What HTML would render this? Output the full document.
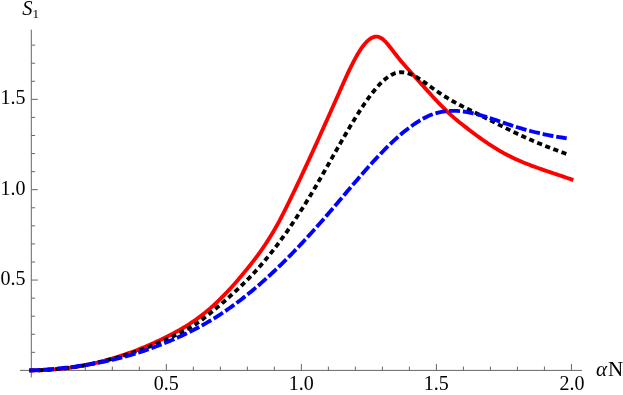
<!DOCTYPE html>
<html><head><meta charset="utf-8"><title>Plot</title>
<style>
html,body{margin:0;padding:0;background:#fff;}
body{width:623px;height:395px;overflow:hidden;}
svg{display:block;will-change:transform;}
text{font-family:"Liberation Serif",serif;fill:#000;}
</style></head><body>
<svg width="623" height="395" viewBox="0 0 623 395">
<rect width="623" height="395" fill="#fff"/>
<g stroke="#666" stroke-width="1" fill="none" shape-rendering="auto">
<line x1="20" y1="370.4" x2="582" y2="370.4"/>
<line x1="31.3" y1="29.7" x2="31.3" y2="377.4"/>
<line x1="58.31" y1="370.4" x2="58.31" y2="366.60"/>
<line x1="85.31" y1="370.4" x2="85.31" y2="366.60"/>
<line x1="112.32" y1="370.4" x2="112.32" y2="366.60"/>
<line x1="139.33" y1="370.4" x2="139.33" y2="366.60"/>
<line x1="166.34" y1="370.4" x2="166.34" y2="363.90"/>
<line x1="193.34" y1="370.4" x2="193.34" y2="366.60"/>
<line x1="220.35" y1="370.4" x2="220.35" y2="366.60"/>
<line x1="247.36" y1="370.4" x2="247.36" y2="366.60"/>
<line x1="274.36" y1="370.4" x2="274.36" y2="366.60"/>
<line x1="301.37" y1="370.4" x2="301.37" y2="363.90"/>
<line x1="328.38" y1="370.4" x2="328.38" y2="366.60"/>
<line x1="355.38" y1="370.4" x2="355.38" y2="366.60"/>
<line x1="382.39" y1="370.4" x2="382.39" y2="366.60"/>
<line x1="409.40" y1="370.4" x2="409.40" y2="366.60"/>
<line x1="436.40" y1="370.4" x2="436.40" y2="363.90"/>
<line x1="463.41" y1="370.4" x2="463.41" y2="366.60"/>
<line x1="490.42" y1="370.4" x2="490.42" y2="366.60"/>
<line x1="517.43" y1="370.4" x2="517.43" y2="366.60"/>
<line x1="544.43" y1="370.4" x2="544.43" y2="366.60"/>
<line x1="571.44" y1="370.4" x2="571.44" y2="363.90"/>
<line x1="31.3" y1="352.33" x2="35.10" y2="352.33"/>
<line x1="31.3" y1="334.26" x2="35.10" y2="334.26"/>
<line x1="31.3" y1="316.19" x2="35.10" y2="316.19"/>
<line x1="31.3" y1="298.12" x2="35.10" y2="298.12"/>
<line x1="31.3" y1="280.05" x2="37.80" y2="280.05"/>
<line x1="31.3" y1="261.98" x2="35.10" y2="261.98"/>
<line x1="31.3" y1="243.91" x2="35.10" y2="243.91"/>
<line x1="31.3" y1="225.84" x2="35.10" y2="225.84"/>
<line x1="31.3" y1="207.77" x2="35.10" y2="207.77"/>
<line x1="31.3" y1="189.70" x2="37.80" y2="189.70"/>
<line x1="31.3" y1="171.63" x2="35.10" y2="171.63"/>
<line x1="31.3" y1="153.56" x2="35.10" y2="153.56"/>
<line x1="31.3" y1="135.49" x2="35.10" y2="135.49"/>
<line x1="31.3" y1="117.42" x2="35.10" y2="117.42"/>
<line x1="31.3" y1="99.35" x2="37.80" y2="99.35"/>
<line x1="31.3" y1="81.28" x2="35.10" y2="81.28"/>
<line x1="31.3" y1="63.21" x2="35.10" y2="63.21"/>
<line x1="31.3" y1="45.14" x2="35.10" y2="45.14"/>
</g>
<g fill="none" stroke-width="3.85" stroke-linejoin="round">
<path stroke="#ff0000" d="M29.30 370.40 L31.30 370.40 L33.30 370.39 L35.30 370.37 L37.30 370.33 L39.30 370.28 L41.30 370.22 L43.30 370.14 L45.30 370.04 L47.30 369.94 L49.30 369.81 L51.30 369.68 L53.30 369.53 L55.30 369.36 L57.30 369.18 L59.30 368.99 L61.30 368.78 L63.30 368.56 L65.30 368.32 L67.30 368.07 L69.30 367.80 L71.30 367.52 L73.30 367.22 L75.30 366.91 L77.30 366.59 L79.30 366.25 L81.30 365.89 L83.30 365.52 L85.30 365.14 L87.30 364.74 L89.30 364.33 L91.30 363.90 L93.30 363.45 L95.30 363.00 L97.30 362.52 L99.30 362.04 L101.30 361.53 L103.30 361.02 L105.30 360.48 L107.30 359.94 L109.30 359.37 L111.30 358.80 L113.30 358.21 L115.30 357.60 L117.30 356.98 L119.30 356.34 L121.30 355.69 L123.30 355.02 L125.30 354.34 L127.30 353.64 L129.30 352.93 L131.30 352.20 L133.30 351.46 L135.30 350.70 L137.30 349.92 L139.30 349.14 L141.30 348.33 L143.30 347.51 L145.30 346.68 L147.30 345.83 L149.30 344.96 L151.30 344.08 L153.30 343.19 L155.30 342.28 L157.30 341.35 L159.30 340.41 L161.30 339.45 L163.30 338.48 L165.30 337.49 L167.30 336.49 L169.30 335.47 L171.30 334.43 L173.30 333.37 L175.30 332.29 L177.30 331.19 L179.30 330.07 L181.30 328.91 L183.30 327.73 L185.30 326.53 L187.30 325.29 L189.30 324.01 L191.30 322.71 L193.30 321.37 L195.30 319.99 L197.30 318.57 L199.30 317.11 L201.30 315.60 L203.30 314.06 L205.30 312.47 L207.30 310.83 L209.30 309.14 L211.30 307.40 L213.30 305.61 L215.30 303.77 L217.30 301.88 L219.30 299.95 L221.30 297.97 L223.30 295.95 L225.30 293.88 L227.30 291.77 L229.30 289.63 L231.30 287.44 L233.30 285.21 L235.30 282.95 L237.30 280.66 L239.30 278.33 L241.30 275.96 L243.30 273.57 L245.30 271.14 L247.30 268.69 L249.30 266.20 L251.30 263.67 L253.30 261.11 L255.30 258.49 L257.30 255.82 L259.30 253.08 L261.30 250.28 L263.30 247.41 L265.30 244.46 L267.30 241.42 L269.30 238.29 L271.30 235.06 L273.30 231.73 L275.30 228.28 L277.30 224.73 L279.30 221.05 L281.30 217.25 L283.30 213.36 L285.30 209.38 L287.30 205.34 L289.30 201.27 L291.30 197.16 L293.30 193.03 L295.30 188.86 L297.30 184.67 L299.30 180.45 L301.30 176.20 L303.30 171.93 L305.30 167.64 L307.30 163.32 L309.30 158.98 L311.30 154.62 L313.30 150.25 L315.30 145.85 L317.30 141.44 L319.30 137.01 L321.30 132.57 L323.30 128.12 L325.30 123.65 L327.30 119.18 L329.30 114.69 L331.30 110.20 L333.30 105.70 L335.30 101.19 L337.30 96.68 L339.30 92.16 L341.30 87.65 L343.30 83.17 L345.30 78.74 L347.30 74.39 L349.30 70.15 L351.30 66.04 L353.30 62.10 L355.30 58.34 L357.30 54.79 L359.30 51.48 L361.30 48.43 L363.30 45.67 L365.30 43.23 L367.30 41.13 L369.30 39.41 L371.30 38.07 L373.30 37.15 L375.30 36.68 L377.30 36.67 L379.30 37.16 L381.30 38.15 L383.30 39.64 L385.30 41.54 L387.30 43.76 L389.30 46.21 L391.30 48.79 L393.30 51.43 L395.30 54.03 L397.30 56.56 L399.30 59.02 L401.30 61.42 L403.30 63.76 L405.30 66.07 L407.30 68.34 L409.30 70.58 L411.30 72.81 L413.30 75.03 L415.30 77.24 L417.30 79.46 L419.30 81.69 L421.30 83.93 L423.30 86.16 L425.30 88.39 L427.30 90.61 L429.30 92.82 L431.30 95.02 L433.30 97.20 L435.30 99.35 L437.30 101.48 L439.30 103.59 L441.30 105.65 L443.30 107.68 L445.30 109.67 L447.30 111.62 L449.30 113.52 L451.30 115.36 L453.30 117.15 L455.30 118.88 L457.30 120.55 L459.30 122.17 L461.30 123.76 L463.30 125.32 L465.30 126.86 L467.30 128.40 L469.30 129.93 L471.30 131.45 L473.30 132.96 L475.30 134.45 L477.30 135.93 L479.30 137.39 L481.30 138.83 L483.30 140.25 L485.30 141.65 L487.30 143.02 L489.30 144.37 L491.30 145.69 L493.30 146.97 L495.30 148.23 L497.30 149.45 L499.30 150.64 L501.30 151.79 L503.30 152.90 L505.30 153.98 L507.30 155.03 L509.30 156.05 L511.30 157.04 L513.30 158.00 L515.30 158.93 L517.30 159.84 L519.30 160.72 L521.30 161.58 L523.30 162.42 L525.30 163.24 L527.30 164.04 L529.30 164.82 L531.30 165.58 L533.30 166.33 L535.30 167.06 L537.30 167.78 L539.30 168.49 L541.30 169.19 L543.30 169.88 L545.30 170.56 L547.30 171.24 L549.30 171.91 L551.30 172.58 L553.30 173.24 L555.30 173.91 L557.30 174.57 L559.30 175.24 L561.30 175.91 L563.30 176.58 L565.30 177.27 L567.30 177.95 L569.30 178.65 L571.30 179.36 L571.45 179.41 L573.33 180.08"/>
<path stroke="#000000" stroke-dasharray="5.1 3.57" d="M29.30 370.41 L31.30 370.40 L33.30 370.38 L35.30 370.35 L37.30 370.31 L39.30 370.25 L41.30 370.17 L43.30 370.09 L45.30 369.99 L47.30 369.87 L49.30 369.75 L51.30 369.60 L53.30 369.45 L55.30 369.28 L57.30 369.10 L59.30 368.90 L61.30 368.69 L63.30 368.47 L65.30 368.23 L67.30 367.98 L69.30 367.72 L71.30 367.44 L73.30 367.15 L75.30 366.85 L77.30 366.53 L79.30 366.21 L81.30 365.86 L83.30 365.51 L85.30 365.14 L87.30 364.76 L89.30 364.36 L91.30 363.96 L93.30 363.53 L95.30 363.10 L97.30 362.66 L99.30 362.20 L101.30 361.73 L103.30 361.24 L105.30 360.74 L107.30 360.24 L109.30 359.71 L111.30 359.18 L113.30 358.63 L115.30 358.07 L117.30 357.50 L119.30 356.92 L121.30 356.32 L123.30 355.71 L125.30 355.09 L127.30 354.46 L129.30 353.81 L131.30 353.15 L133.30 352.48 L135.30 351.80 L137.30 351.11 L139.30 350.40 L141.30 349.69 L143.30 348.96 L145.30 348.21 L147.30 347.46 L149.30 346.69 L151.30 345.90 L153.30 345.10 L155.30 344.29 L157.30 343.46 L159.30 342.62 L161.30 341.75 L163.30 340.88 L165.30 339.98 L167.30 339.07 L169.30 338.13 L171.30 337.21 L173.30 336.27 L175.30 335.32 L177.30 334.34 L179.30 333.35 L181.30 332.33 L183.30 331.29 L185.30 330.23 L187.30 329.13 L189.30 327.99 L191.30 326.81 L193.30 325.59 L195.30 324.31 L197.30 322.99 L199.30 321.60 L201.30 320.16 L203.30 318.65 L205.30 317.10 L207.30 315.52 L209.30 313.91 L211.30 312.28 L213.30 310.64 L215.30 309.00 L217.30 307.31 L219.30 305.61 L221.30 303.90 L223.30 302.17 L225.30 300.43 L227.30 298.67 L229.30 296.89 L231.30 295.09 L233.30 293.28 L235.30 291.43 L237.30 289.57 L239.30 287.68 L241.30 285.76 L243.30 283.81 L245.30 281.84 L247.30 279.83 L249.30 277.79 L251.30 275.71 L253.30 273.60 L255.30 271.45 L257.30 269.27 L259.30 267.04 L261.30 264.76 L263.30 262.42 L265.30 260.04 L267.30 257.62 L269.30 255.15 L271.30 252.65 L273.30 250.09 L275.30 247.50 L277.30 244.87 L279.30 242.19 L281.30 239.47 L283.30 236.71 L285.30 233.90 L287.30 231.06 L289.30 228.18 L291.30 225.25 L293.30 222.28 L295.30 219.28 L297.30 216.23 L299.30 213.14 L301.30 210.02 L303.30 206.87 L305.30 203.69 L307.30 200.46 L309.30 197.19 L311.30 193.88 L313.30 190.54 L315.30 187.15 L317.30 183.73 L319.30 180.28 L321.30 176.80 L323.30 173.30 L325.30 169.78 L327.30 166.25 L329.30 162.70 L331.30 159.16 L333.30 155.63 L335.30 152.11 L337.30 148.59 L339.30 145.08 L341.30 141.59 L343.30 138.12 L345.30 134.68 L347.30 131.26 L349.30 127.88 L351.30 124.53 L353.30 121.23 L355.30 117.97 L357.30 114.77 L359.30 111.62 L361.30 108.53 L363.30 105.52 L365.30 102.58 L367.30 99.73 L369.30 96.98 L371.30 94.29 L373.30 91.70 L375.30 89.24 L377.30 86.90 L379.30 84.70 L381.30 82.65 L383.30 80.76 L385.30 79.03 L387.30 77.48 L389.30 76.10 L391.30 74.92 L393.30 73.94 L395.30 73.17 L397.30 72.65 L399.30 72.33 L401.30 72.22 L403.30 72.30 L405.30 72.56 L407.30 73.00 L409.30 73.62 L411.30 74.39 L413.30 75.31 L415.30 76.36 L417.30 77.51 L419.30 78.76 L421.30 80.08 L423.30 81.47 L425.30 82.90 L427.30 84.36 L429.30 85.83 L431.30 87.29 L433.30 88.73 L435.30 90.14 L437.30 91.52 L439.30 92.87 L441.30 94.19 L443.30 95.49 L445.30 96.75 L447.30 97.98 L449.30 99.19 L451.30 100.36 L453.30 101.51 L455.30 102.63 L457.30 103.72 L459.30 104.78 L461.30 105.82 L463.30 106.84 L465.30 107.85 L467.30 108.84 L469.30 109.83 L471.30 110.81 L473.30 111.79 L475.30 112.77 L477.30 113.75 L479.30 114.74 L481.30 115.74 L483.30 116.75 L485.30 117.75 L487.30 118.77 L489.30 119.78 L491.30 120.80 L493.30 121.82 L495.30 122.84 L497.30 123.85 L499.30 124.87 L501.30 125.88 L503.30 126.89 L505.30 127.89 L507.30 128.89 L509.30 129.88 L511.30 130.86 L513.30 131.83 L515.30 132.80 L517.30 133.75 L519.30 134.69 L521.30 135.62 L523.30 136.53 L525.30 137.44 L527.30 138.34 L529.30 139.22 L531.30 140.10 L533.30 140.96 L535.30 141.82 L537.30 142.66 L539.30 143.49 L541.30 144.32 L543.30 145.13 L545.30 145.93 L547.30 146.73 L549.30 147.51 L551.30 148.29 L553.30 149.06 L555.30 149.81 L557.30 150.56 L559.30 151.30 L561.30 152.03 L563.30 152.75 L565.30 153.46 L566.70 153.95"/>
<path stroke="#0000ff" stroke-dasharray="10.97 2.865" d="M29.30 370.49 L31.30 370.40 L33.30 370.31 L35.30 370.20 L37.30 370.10 L39.30 369.98 L41.30 369.86 L43.30 369.73 L45.30 369.59 L47.30 369.44 L49.30 369.29 L51.30 369.13 L53.30 368.96 L55.30 368.78 L57.30 368.60 L59.30 368.41 L61.30 368.21 L63.30 368.00 L65.30 367.78 L67.30 367.55 L69.30 367.31 L71.30 367.07 L73.30 366.81 L75.30 366.55 L77.30 366.28 L79.30 365.99 L81.30 365.70 L83.30 365.40 L85.30 365.09 L87.30 364.76 L89.30 364.43 L91.30 364.09 L93.30 363.73 L95.30 363.37 L97.30 362.99 L99.30 362.61 L101.30 362.21 L103.30 361.80 L105.30 361.38 L107.30 360.95 L109.30 360.50 L111.30 360.05 L113.30 359.58 L115.30 359.10 L117.30 358.61 L119.30 358.11 L121.30 357.60 L123.30 357.07 L125.30 356.53 L127.30 355.97 L129.30 355.41 L131.30 354.83 L133.30 354.23 L135.30 353.63 L137.30 353.01 L139.30 352.38 L141.30 351.73 L143.30 351.07 L145.30 350.39 L147.30 349.71 L149.30 349.00 L151.30 348.29 L153.30 347.55 L155.30 346.81 L157.30 346.04 L159.30 345.27 L161.30 344.48 L163.30 343.67 L165.30 342.84 L167.30 342.01 L169.30 341.15 L171.30 340.31 L173.30 339.46 L175.30 338.60 L177.30 337.72 L179.30 336.82 L181.30 335.91 L183.30 334.98 L185.30 334.03 L187.30 333.07 L189.30 332.09 L191.30 331.09 L193.30 330.07 L195.30 329.04 L197.30 327.98 L199.30 326.91 L201.30 325.82 L203.30 324.72 L205.30 323.59 L207.30 322.44 L209.30 321.28 L211.30 320.10 L213.30 318.90 L215.30 317.67 L217.30 316.39 L219.30 315.08 L221.30 313.76 L223.30 312.42 L225.30 311.06 L227.30 309.67 L229.30 308.27 L231.30 306.85 L233.30 305.40 L235.30 303.94 L237.30 302.45 L239.30 300.94 L241.30 299.41 L243.30 297.86 L245.30 296.29 L247.30 294.70 L249.30 293.08 L251.30 291.44 L253.30 289.78 L255.30 288.10 L257.30 286.40 L259.30 284.67 L261.30 282.92 L263.30 281.15 L265.30 279.36 L267.30 277.55 L269.30 275.72 L271.30 273.86 L273.30 271.99 L275.30 270.10 L277.30 268.18 L279.30 266.25 L281.30 264.30 L283.30 262.33 L285.30 260.35 L287.30 258.34 L289.30 256.32 L291.30 254.28 L293.30 252.22 L295.30 250.15 L297.30 248.06 L299.30 245.95 L301.30 243.83 L303.30 241.69 L305.30 239.53 L307.30 237.36 L309.30 235.17 L311.30 232.97 L313.30 230.76 L315.30 228.53 L317.30 226.28 L319.30 224.03 L321.30 221.76 L323.30 219.47 L325.30 217.18 L327.30 214.87 L329.30 212.55 L331.30 210.22 L333.30 207.88 L335.30 205.53 L337.30 203.17 L339.30 200.80 L341.30 198.43 L343.30 196.05 L345.30 193.68 L347.30 191.33 L349.30 188.98 L351.30 186.64 L353.30 184.31 L355.30 181.98 L357.30 179.65 L359.30 177.34 L361.30 175.04 L363.30 172.76 L365.30 170.48 L367.30 168.23 L369.30 165.99 L371.30 163.78 L373.30 161.58 L375.30 159.41 L377.30 157.27 L379.30 155.15 L381.30 153.06 L383.30 151.00 L385.30 148.97 L387.30 146.98 L389.30 145.02 L391.30 143.09 L393.30 141.18 L395.30 139.32 L397.30 137.51 L399.30 135.74 L401.30 134.02 L403.30 132.35 L405.30 130.73 L407.30 129.17 L409.30 127.67 L411.30 126.22 L413.30 124.79 L415.30 123.39 L417.30 122.06 L419.30 120.80 L421.30 119.61 L423.30 118.49 L425.30 117.45 L427.30 116.48 L429.30 115.59 L431.30 114.78 L433.30 114.04 L435.30 113.38 L437.30 112.84 L439.30 112.36 L441.30 111.95 L443.30 111.61 L445.30 111.33 L447.30 111.12 L449.30 110.97 L451.30 110.87 L453.30 110.84 L455.30 110.85 L457.30 110.93 L459.30 111.05 L461.30 111.24 L463.30 111.49 L465.30 111.79 L467.30 112.13 L469.30 112.50 L471.30 112.92 L473.30 113.37 L475.30 113.85 L477.30 114.36 L479.30 114.90 L481.30 115.46 L483.30 116.05 L485.30 116.66 L487.30 117.29 L489.30 117.93 L491.30 118.58 L493.30 119.25 L495.30 119.93 L497.30 120.61 L499.30 121.29 L501.30 121.98 L503.30 122.67 L505.30 123.35 L507.30 124.03 L509.30 124.70 L511.30 125.36 L513.30 126.01 L515.30 126.64 L517.30 127.26 L519.30 127.86 L521.30 128.46 L523.30 129.05 L525.30 129.62 L527.30 130.18 L529.30 130.72 L531.30 131.24 L533.30 131.76 L535.30 132.25 L537.30 132.74 L539.30 133.20 L541.30 133.66 L543.30 134.10 L545.30 134.54 L547.30 134.95 L549.30 135.36 L551.30 135.74 L553.30 136.10 L555.30 136.45 L557.30 136.79 L559.30 137.12 L561.30 137.44 L563.30 137.76 L565.30 138.06 L566.70 138.27"/>
</g>
<g font-size="20px">
<text x="166.25" y="390" text-anchor="middle">0.5</text>
<text x="301.25" y="390" text-anchor="middle">1.0</text>
<text x="436.25" y="390" text-anchor="middle">1.5</text>
<text x="572.0" y="390" text-anchor="middle">2.0</text>
<text x="25.6" y="285.1" text-anchor="end">0.5</text>
<text x="25.6" y="194.7" text-anchor="end">1.0</text>
<text x="25.6" y="104.2" text-anchor="end">1.5</text>
<text x="22.2" y="15" font-style="italic" font-size="20.5px">S</text>
<text x="32.6" y="17.6" font-size="13px">1</text>
<text x="596" y="375.5" font-style="italic" font-size="21px">α</text>
<text x="608" y="375.5" font-size="21px">N</text>
</g>
</svg>
</body></html>
